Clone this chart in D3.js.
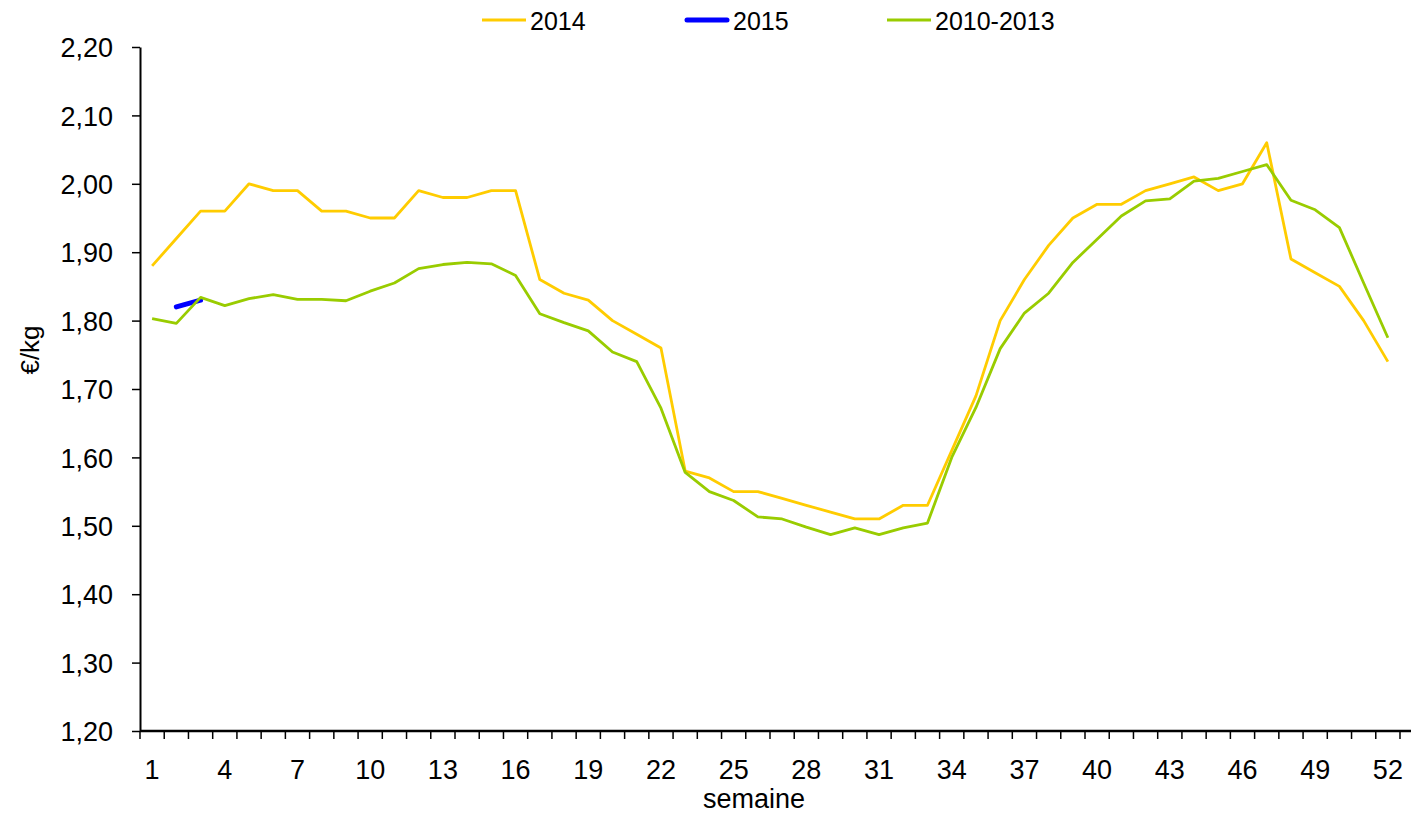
<!DOCTYPE html>
<html>
<head>
<meta charset="utf-8">
<script src="https://cdn.jsdelivr.net/npm/d3@7"></script>
<style>
  html, body { margin: 0; padding: 0; background: #fff; }
  svg text { font-family: "Liberation Sans", Arial, sans-serif; fill: #000; }
</style>
</head>
<body>
<div id="chart"></div>
<script>
const weeks = d3.range(1, 53);
const weekLabels = [1, 4, 7, 10, 13, 16, 19, 22, 25, 28, 31, 34, 37, 40, 43, 46, 49, 52];
const yTicks = [1.2, 1.3, 1.4, 1.5, 1.6, 1.7, 1.8, 1.9, 2.0, 2.1, 2.2];

const prix2014 = [1.88, 1.92, 1.96, 1.96, 2.00, 1.99, 1.99, 1.96, 1.96, 1.95, 1.95, 1.99, 1.98,
  1.98, 1.99, 1.99, 1.86, 1.84, 1.83, 1.80, 1.78, 1.76, 1.58, 1.57, 1.55, 1.55, 1.54, 1.53,
  1.52, 1.51, 1.51, 1.53, 1.53, 1.61, 1.69, 1.80, 1.86, 1.91, 1.95, 1.97, 1.97, 1.99, 2.00,
  2.01, 1.99, 2.00, 2.06, 1.89, 1.87, 1.85, 1.80, 1.74];
const prix2015 = [null, 1.82, 1.83];
const prix2010_2013 = [1.803, 1.796, 1.834, 1.822, 1.832, 1.838, 1.831, 1.831, 1.829, 1.843,
  1.855, 1.876, 1.882, 1.885, 1.883, 1.866, 1.810, 1.797, 1.785, 1.754, 1.740, 1.672, 1.578,
  1.550, 1.537, 1.513, 1.510, 1.498, 1.487, 1.497, 1.487, 1.497, 1.504, 1.600, 1.673, 1.759,
  1.811, 1.840, 1.885, 1.919, 1.953, 1.975, 1.978, 2.004, 2.008, 2.018, 2.028, 1.976, 1.962,
  1.936, 1.855, 1.775];

const series = [
  { name: '2014', values: prix2014, color: '#FFCC00', width: 2.8 },
  { name: '2015', values: prix2015, color: '#0000FF', width: 5 },
  { name: '2010-2013', values: prix2010_2013, color: '#99CC00', width: 2.8 }
];

const W = 1411, H = 815;
const margin = { top: 47, right: 11, bottom: 84, left: 140 };

const svg = d3.select('#chart').append('svg')
  .attr('width', W)
  .attr('height', H);

// last tick sits at 1400, the axis line runs on to the edge
const x = d3.scaleBand()
  .domain(weeks)
  .range([margin.left, W - margin.right])
  .padding(0);

const y = d3.scaleLinear()
  .domain([1.2, 2.2])
  .range([H - margin.bottom, margin.top]);

const fmt = d => d3.format('.2f')(d).replace('.', ',');

// Y axis
const yAxis = svg.append('g')
  .attr('transform', `translate(${margin.left},0)`)
  .call(d3.axisLeft(y).tickValues(yTicks).tickFormat(fmt).tickSize(8).tickPadding(19).tickSizeOuter(0));
yAxis.select('.domain').attr('stroke', '#000').attr('stroke-width', 2);
yAxis.selectAll('.tick line').attr('stroke', '#000').attr('stroke-width', 1.5);
yAxis.selectAll('.tick text').style('font-size', '27px').attr('dy', '0.36em');

// X axis
const y0 = y(1.2);
const xAxis = svg.append('g');
xAxis.append('line')
  .attr('x1', margin.left).attr('x2', W)
  .attr('y1', y0).attr('y2', y0)
  .attr('stroke', '#000').attr('stroke-width', 2.5);
xAxis.selectAll('line.tk')
  .data(weeks.concat([null]))
  .join('line')
  .attr('class', 'tk')
  .attr('x1', d => d === null ? x.range()[1] : x(d))
  .attr('x2', d => d === null ? x.range()[1] : x(d))
  .attr('y1', y0).attr('y2', y0 + 8)
  .attr('stroke', '#000').attr('stroke-width', 1.5);
xAxis.selectAll('text')
  .data(weekLabels)
  .join('text')
  .attr('x', d => x(d) + x.bandwidth() / 2)
  .attr('y', y0 + 48)
  .attr('text-anchor', 'middle')
  .style('font-size', '27px')
  .text(d => d);

// Axis titles
svg.append('text')
  .attr('x', 754)
  .attr('y', 808)
  .attr('text-anchor', 'middle')
  .style('font-size', '27px')
  .text('semaine');

svg.append('text')
  .attr('transform', 'translate(39,350) rotate(-90)')
  .attr('text-anchor', 'middle')
  .style('font-size', '26px')
  .text('€/kg');

// Lines
const line = d3.line()
  .defined(d => d[1] != null)
  .x(d => x(d[0]) + x.bandwidth() / 2)
  .y(d => y(d[1]));

series.forEach(s => {
  svg.append('path')
    .datum(s.values.map((v, i) => [weeks[i], v]))
    .attr('fill', 'none')
    .attr('stroke', s.color)
    .attr('stroke-width', s.width)
    .attr('stroke-linejoin', 'round')
    .attr('stroke-linecap', s.name === '2015' ? 'round' : 'butt')
    .attr('d', line);
});

// Legend
const legendPos = [482, 685, 887];
const legend = svg.append('g');
series.forEach((s, i) => {
  const g = legend.append('g').attr('transform', `translate(${legendPos[i]},20)`);
  g.append('line')
    .attr('x1', s.name === '2015' ? 2 : 0).attr('x2', s.name === '2015' ? 42 : 44)
    .attr('y1', 0).attr('y2', 0)
    .attr('stroke', s.color)
    .attr('stroke-width', s.name === '2015' ? 5 : 3)
    .attr('stroke-linecap', s.name === '2015' ? 'round' : 'butt');
  g.append('text')
    .attr('x', 48)
    .attr('y', 10)
    .style('font-size', '25px')
    .text(s.name);
});
</script>
</body>
</html>
